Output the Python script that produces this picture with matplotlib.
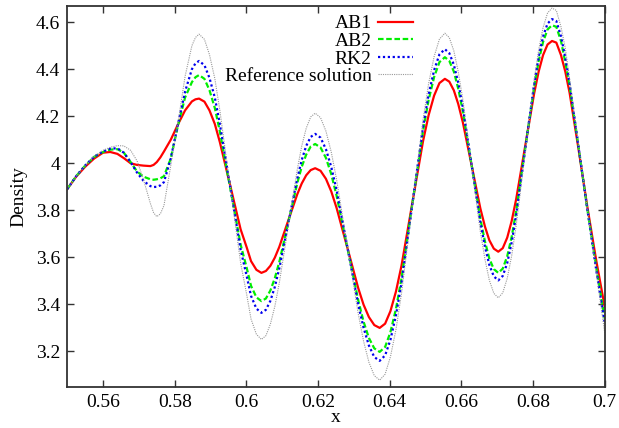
#!/usr/bin/env python3

import numpy as np
import matplotlib
matplotlib.use('Agg')
import matplotlib.pyplot as plt
from matplotlib.ticker import FormatStrFormatter

x = [0.550, 0.5525, 0.555, 0.5575, 0.560, 0.562, 0.564,
     0.5658, 0.5677, 0.5695, 0.5713, 0.5732, 0.5741, 0.575,
     0.576, 0.577, 0.5789, 0.5809, 0.5829, 0.5848, 0.5858, 0.5868,
     0.5883, 0.5897, 0.5912, 0.5926, 0.5955, 0.5984, 0.6001, 0.6013, 0.6028, 0.6042,
     0.60545, 0.6067, 0.60795, 0.6092, 0.6117, 0.6142, 0.61545, 0.6167, 0.61795, 0.6192,
     0.6207, 0.6222, 0.6237, 0.6252, 0.6282, 0.6312, 0.6327, 0.6342, 0.6357, 0.6372,
     0.63872, 0.6402, 0.64175, 0.6433, 0.6463, 0.6493, 0.65085, 0.6524, 0.65388, 0.6554,
     0.65664, 0.6579, 0.65913, 0.6604, 0.66285, 0.6653, 0.66658, 0.6678, 0.66906, 0.6703,
     0.67155, 0.6728, 0.67405, 0.6753, 0.6778, 0.6803, 0.68155, 0.6828, 0.68405, 0.6853,
     0.6865, 0.6878, 0.689, 0.6902, 0.6927, 0.6951, 0.6976, 0.700]

ab1 = [3.89, 3.943, 3.985, 4.02, 4.045, 4.048, 4.04,
       4.022, 4.0, 3.993, 3.99, 3.988, 3.993, 4.005,
       4.025, 4.05, 4.10, 4.165, 4.225, 4.263, 4.272, 4.275,
       4.262, 4.225, 4.167, 4.090, 3.905, 3.719, 3.642, 3.584, 3.547, 3.534,
       3.542, 3.564, 3.599, 3.645, 3.757, 3.868, 3.914, 3.949, 3.971, 3.979,
       3.968, 3.934, 3.880, 3.809, 3.640, 3.470, 3.399, 3.346, 3.312, 3.300,
       3.318, 3.371, 3.455, 3.565, 3.830, 4.094, 4.204, 4.288, 4.341, 4.359,
       4.347, 4.310, 4.252, 4.175, 3.992, 3.808, 3.731, 3.673, 3.637, 3.624,
       3.639, 3.684, 3.755, 3.848, 4.072, 4.296, 4.389, 4.460, 4.505, 4.520,
       4.513, 4.46, 4.39, 4.30, 4.06, 3.82, 3.59, 3.39]

ab2 = [3.89, 3.945, 3.99, 4.027, 4.048, 4.058, 4.06,
       4.045, 4.005, 3.965, 3.943, 3.932, 3.930, 3.932,
       3.936, 3.945, 4.02, 4.16, 4.28, 4.345, 4.366, 4.375,
       4.359, 4.311, 4.235, 4.135, 3.894, 3.654, 3.555, 3.479, 3.430, 3.414,
       3.425, 3.459, 3.512, 3.581, 3.748, 3.915, 3.985, 4.037, 4.071, 4.082,
       4.067, 4.023, 3.953, 3.861, 3.640, 3.419, 3.327, 3.257, 3.213, 3.198,
       3.219, 3.282, 3.381, 3.511, 3.825, 4.138, 4.268, 4.367, 4.430, 4.451,
       4.435, 4.390, 4.317, 4.222, 3.993, 3.763, 3.668, 3.595, 3.550, 3.534,
       3.552, 3.605, 3.688, 3.797, 4.061, 4.324, 4.433, 4.516, 4.569, 4.587,
       4.58, 4.52, 4.43, 4.33, 4.07, 3.81, 3.56, 3.34]

rk2 = [3.89, 3.945, 3.99, 4.028, 4.05, 4.062, 4.064,
       4.045, 4.005, 3.96, 3.925, 3.903, 3.899, 3.90,
       3.906, 3.92, 4.02, 4.165, 4.305, 4.40, 4.425, 4.435,
       4.417, 4.363, 4.279, 4.167, 3.900, 3.632, 3.520, 3.436, 3.382, 3.364,
       3.377, 3.415, 3.475, 3.554, 3.745, 3.935, 4.014, 4.074, 4.112, 4.125,
       4.109, 4.060, 3.984, 3.884, 3.643, 3.401, 3.301, 3.225, 3.176, 3.160,
       3.183, 3.249, 3.354, 3.491, 3.823, 4.154, 4.292, 4.396, 4.463, 4.485,
       4.468, 4.419, 4.342, 4.239, 3.994, 3.748, 3.646, 3.568, 3.519, 3.502,
       3.521, 3.576, 3.664, 3.780, 4.058, 4.335, 4.451, 4.539, 4.594, 4.613,
       4.605, 4.54, 4.45, 4.34, 4.07, 3.81, 3.55, 3.32]

ref = [3.89, 3.945, 3.99, 4.03, 4.055, 4.068, 4.075,
       4.074, 4.055, 4.01, 3.93, 3.83, 3.79, 3.773,
       3.785, 3.82, 3.99, 4.17, 4.37, 4.50, 4.535, 4.549,
       4.527, 4.462, 4.360, 4.225, 3.900, 3.576, 3.441, 3.338, 3.273, 3.251,
       3.267, 3.316, 3.392, 3.492, 3.732, 3.973, 4.073, 4.149, 4.197, 4.213,
       4.194, 4.137, 4.047, 3.929, 3.646, 3.362, 3.244, 3.154, 3.097, 3.078,
       3.103, 3.177, 3.293, 3.447, 3.816, 4.184, 4.338, 4.454, 4.528, 4.553,
       4.534, 4.478, 4.389, 4.272, 3.991, 3.709, 3.592, 3.503, 3.447, 3.428,
       3.449, 3.511, 3.608, 3.736, 4.044, 4.352, 4.480, 4.577, 4.639, 4.660,
       4.65, 4.58, 4.49, 4.36, 4.08, 3.81, 3.54, 3.28]

xticks = [0.56, 0.58, 0.60, 0.62, 0.64, 0.66, 0.68, 0.70]
yticks = [3.2, 3.4, 3.6, 3.8, 4.0, 4.2, 4.4, 4.6]

plt.rcParams['font.family'] = ['Liberation Serif', 'DejaVu Serif']
plt.rcParams['font.size'] = 14

fig = plt.figure(figsize=(6.19, 4.28), dpi=100)
ax = fig.add_axes([67.2 / 619, 1 - 386.7 / 428, 537.5 / 619, 381.0 / 428])

ax.plot(x, ab1, color='#ff0000', linewidth=1.6, linestyle='-', label='AB1')
ax.plot(x, ab2, color='#00ee00', linewidth=1.6, linestyle=(0, (2.5, 1.2)), label='AB2')
ax.plot(x, rk2, color='#0000ee', linewidth=1.6, linestyle=(0, (1, 1.2)), label='RK2')
ax.plot(x, ref, color='#999999', linewidth=0.8, linestyle=(0, (1, 1)), label='Reference solution')

ax.set_xlim(0.55, 0.70)
ax.set_ylim(3.05, 4.67)
ax.set_xticks(xticks)
ax.set_yticks(yticks)
ax.xaxis.set_major_formatter(FormatStrFormatter('%g'))
ax.yaxis.set_major_formatter(FormatStrFormatter('%g'))
ax.tick_params(direction='in', top=True, right=True, length=5, width=1, pad=5,
               color='#333333', labelsize=14)
for s in ax.spines.values():
    s.set_linewidth(1.3)
    s.set_color('#333333')

ax.set_xlabel('x', labelpad=-1)
ax.set_ylabel('Density', labelpad=6)

ax.legend(loc='upper right', bbox_to_anchor=(423 / 619, 1 - 5 / 428),
          bbox_transform=fig.transFigure, frameon=False, markerfirst=False,
          handlelength=1.8, handletextpad=0.35, labelspacing=0.0,
          borderpad=0, fontsize=14)

fig.savefig('out.png', dpi=100)
